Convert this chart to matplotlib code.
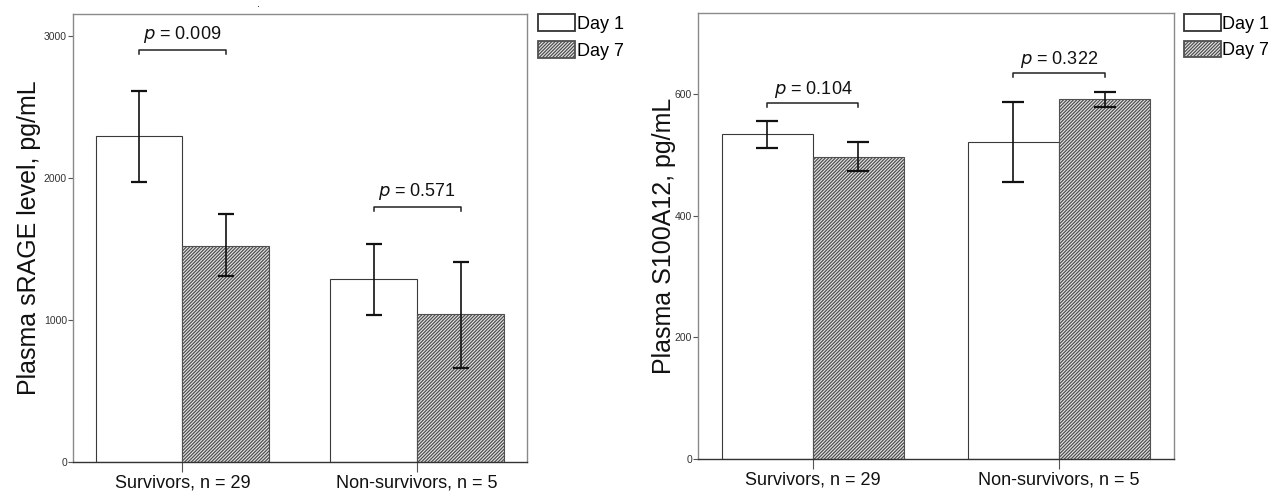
import matplotlib
matplotlib.use("Agg")
import matplotlib.pyplot as plt
import numpy as np
from matplotlib.patches import Patch

plt.rcParams['font.family'] = ['Liberation Sans', 'DejaVu Sans']
plt.rcParams['hatch.linewidth'] = 0.9

groups = ["Survivors, n = 29", "Non-survivors, n = 5"]
series = ["Day 1", "Day 7"]

# Left panel: sRAGE
srage_day1 = [2295, 1288]
srage_day1_lo = [1972, 1034]
srage_day1_hi = [2613, 1536]
srage_day7 = [1522, 1041]
srage_day7_lo = [1309, 664]
srage_day7_hi = [1743, 1407]
srage_p = ["0.009", "0.571"]
srage_p_y = [2899, 1796]
srage_ticks = [0, 1000, 2000, 3000]

# Right panel: S100A12
s100_day1 = [533.7, 520.5]
s100_day1_lo = [512, 454.6]
s100_day1_hi = [555, 587]
s100_day7 = [496.8, 591.3]
s100_day7_lo = [473.7, 578]
s100_day7_hi = [521, 603.8]
s100_p = ["0.104", "0.322"]
s100_p_y = [585.7, 634]
s100_ticks = [0, 200, 400, 600]

W, H = 1277, 494
fig = plt.figure(figsize=(W / 100, H / 100), dpi=100)

HATCH_EDGE = '#505050'
HATCH = '//////////'
FRAME = '#8a8a8a'


def panel(rect, d1, d1lo, d1hi, d7, d7lo, d7hi, pvals, py, ticks, ymax,
          ylabel, capsize, tick_dy, text_dy, leg_xy, labelpad):
    ax = fig.add_axes(rect)
    x = np.arange(len(groups))
    bw = 0.37
    ax.bar(x - bw / 2, d1, bw, color='white', edgecolor='#3a3a3a',
           linewidth=0.8, zorder=2)
    ax.bar(x + bw / 2, d7, bw, color='#e6e6e6', edgecolor=HATCH_EDGE,
           hatch=HATCH, linewidth=0.8, zorder=2)
    d1 = np.array(d1); d7 = np.array(d7)
    e1 = np.vstack([d1 - np.array(d1lo), np.array(d1hi) - d1])
    e7 = np.vstack([d7 - np.array(d7lo), np.array(d7hi) - d7])
    ax.errorbar(x - bw / 2, d1, yerr=e1, fmt='none', ecolor='#111111',
                elinewidth=1.2, capsize=capsize, capthick=1.6, zorder=3)
    ax.errorbar(x + bw / 2, d7, yerr=e7, fmt='none', ecolor='#111111',
                elinewidth=1.2, capsize=capsize, capthick=1.6, zorder=3)
    for i in range(len(groups)):
        xl, xr = x[i] - bw / 2, x[i] + bw / 2
        yb = py[i]
        ax.plot([xl, xl, xr, xr], [yb - tick_dy, yb, yb, yb - tick_dy],
                color='#222222', lw=1.1, zorder=4)
        ax.text(x[i], yb + text_dy, r'$\it{p}$ = ' + pvals[i], ha='center',
                va='baseline', fontsize=13, color='#111111')
    ax.set_xlim(-0.465, 1.467)
    ax.set_ylim(0, ymax)
    ax.set_xticks(x)
    ax.set_xticklabels(groups, fontsize=13, color='#111111')
    ax.set_yticks(ticks)
    ax.set_yticklabels([str(t) for t in ticks], fontsize=7.5, color='#333333')
    ax.tick_params(axis='x', length=7, width=0.8, color='#555555', pad=2)
    ax.tick_params(axis='y', length=3.5, width=0.8, color='#555555', pad=1)
    for s in ['left', 'top', 'right']:
        ax.spines[s].set_color(FRAME)
        ax.spines[s].set_linewidth(1.0)
    ax.spines['bottom'].set_color('#333333')
    ax.spines['bottom'].set_linewidth(1.0)
    ax.set_ylabel(ylabel, fontsize=18, color='#111111', labelpad=labelpad)
    handles = [Patch(facecolor='white', edgecolor='#333333', linewidth=1.3),
               Patch(facecolor='#e6e6e6', edgecolor=HATCH_EDGE, hatch=HATCH,
                     linewidth=1.3)]
    fig.legend(handles, series, loc='upper left',
               bbox_to_anchor=leg_xy, bbox_transform=fig.transFigure,
               frameon=False, fontsize=13, handlelength=2.05,
               handleheight=1.05, handletextpad=0.08, labelspacing=0.45,
               borderpad=0, borderaxespad=0)
    return ax


panel([73.3 / W, 1 - 462 / H, (526.7 - 73.3) / W, (462 - 14) / H],
      srage_day1, srage_day1_lo, srage_day1_hi,
      srage_day7, srage_day7_lo, srage_day7_hi,
      srage_p, srage_p_y, srage_ticks, 3153,
      "Plasma sRAGE level, pg/mL", 6, 28, 75,
      (538.3 / W, 1 - 14.5 / H), 2)

panel([698.3 / W, 1 - 458.5 / H, (1174 - 698.3) / W, (458.5 - 13.3) / H],
      s100_day1, s100_day1_lo, s100_day1_hi,
      s100_day7, s100_day7_lo, s100_day7_hi,
      s100_p, s100_p_y, s100_ticks, 733,
      "Plasma S100A12, pg/mL", 8, 6.5, 15,
      (1184 / W, 1 - 14 / H), -1)

fig.text(259 / W, 1 - 4 / H, '.', fontsize=8, ha='center', va='center')

fig.savefig('out.png', dpi=100)
